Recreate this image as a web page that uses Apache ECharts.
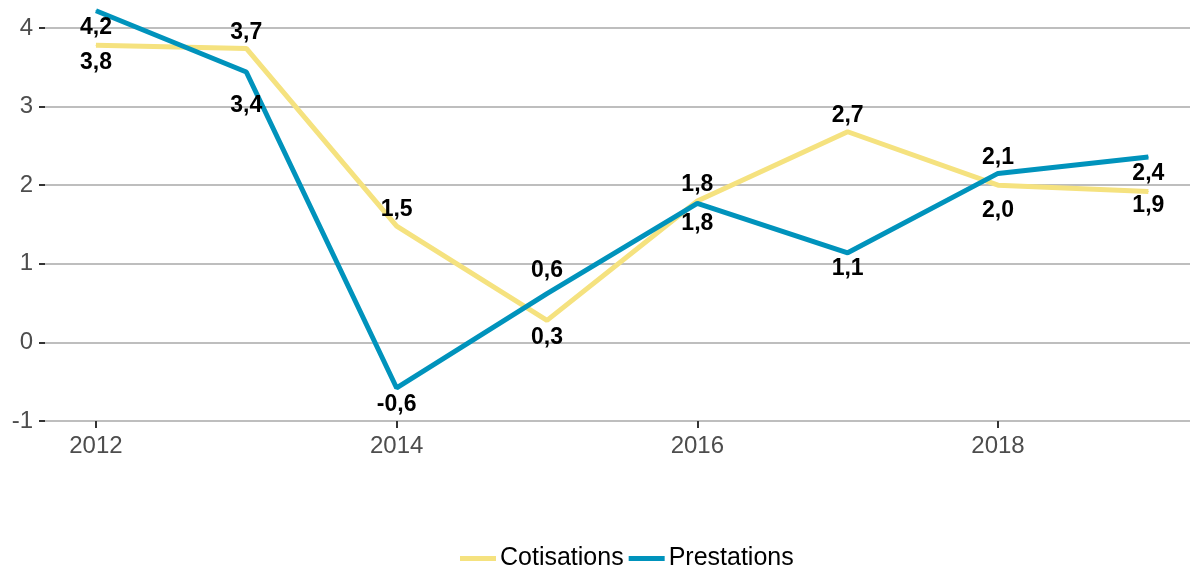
<!DOCTYPE html>
<html>
<head>
<meta charset="utf-8">
<script src="https://cdn.jsdelivr.net/npm/echarts@6/dist/echarts.min.js"></script>
<style>
	html, body { margin: 0; padding: 0; background: #fff; }
	#chart { width: 1192px; height: 567px; }
</style>
</head>
<body>
<div id="chart"></div>
<script>
	// données
	const years = [2012, 2013, 2014, 2015, 2016, 2017, 2018, 2019]
	const cotisations = [3.78, 3.74, 1.48, 0.28, 1.80, 2.68, 2.00, 1.92]
	const prestations = [4.22, 3.44, -0.58, 0.62, 1.77, 1.14, 2.15, 2.36]
	const xTicks = [2012, 2014, 2016, 2018]

	// placement des étiquettes (au-dessus / en dessous + décalage vertical)
	const cotisPos = ['bottom', 'top', 'top', 'bottom', 'top', 'top', 'bottom', 'bottom']
	const prestPos = ['bottom', 'bottom', 'bottom', 'top', 'bottom', 'bottom', 'top', 'bottom']
	const cotisShift = [1, 0, 0, 1, 0, 0, 9, -2]
	const prestShift = [1, 18, 1, -7, 4, 0, 0, 1]

	const fmt = v => v.toFixed(1).replace('.', ',')

	function buildData(vals, pos) {
		return vals.map((v, i) => ({
			value: [years[i], v],
			label: { position: pos[i] }
		}))
	}

	const labelStyle = {
		show: true,
		distance: 4,
		fontFamily: 'Liberation Sans, Arial, sans-serif',
		fontWeight: 'bold',
		fontSize: 23,
		color: '#000',
		formatter: p => fmt(p.value[1])
	}

	const chart = echarts.init(document.getElementById('chart'))
	chart.setOption({
		animation: false,
		textStyle: { fontFamily: 'Liberation Sans, Arial, sans-serif' },
		grid: {
			left: 45,
			right: 2,
			top: 28,
			bottom: 146
		},
		legend: {
			top: 541,
			left: 455,
			itemGap: 5,
			itemWidth: 36,
			itemHeight: 5,
			icon: 'rect',
			textStyle: { fontSize: 25, color: '#000', padding: [0, 0, 0, -1] },
			data: ['Cotisations', 'Prestations']
		},
		xAxis: {
			type: 'value',
			min: 2011.661,
			max: 2019.277,
			axisLine: { show: false, onZero: false },
			splitLine: { show: false },
			axisTick: {
				show: true,
				length: 7,
				customValues: xTicks,
				lineStyle: { color: '#333', width: 2 }
			},
			axisLabel: {
				customValues: xTicks,
				formatter: v => String(v),
				color: '#4d4d4d',
				fontSize: 24,
				margin: 13
			}
		},
		yAxis: {
			type: 'value',
			min: -1,
			max: 4,
			interval: 1,
			axisLine: { show: false },
			axisTick: {
				show: true,
				length: 6,
				lineStyle: { color: '#333', width: 2 }
			},
			splitLine: { lineStyle: { color: '#bebebe', width: 2 } },
			axisLabel: {
				color: '#4d4d4d',
				fontSize: 24,
				margin: 12
			}
		},
		series: [{
			name: 'Cotisations',
			type: 'line',
			clip: false,
			symbol: 'circle',
			symbolSize: 1,
			color: '#f5e27f',
			lineStyle: { width: 5, color: '#f5e27f' },
			label: labelStyle,
			labelLayout: p => ({ dy: cotisShift[p.dataIndex], hideOverlap: false }),
			data: buildData(cotisations, cotisPos),
			z: 2
		}, {
			name: 'Prestations',
			type: 'line',
			clip: false,
			symbol: 'circle',
			symbolSize: 1,
			color: '#0093bc',
			lineStyle: { width: 5, color: '#0093bc' },
			label: labelStyle,
			labelLayout: p => ({ dy: prestShift[p.dataIndex], hideOverlap: false }),
			data: buildData(prestations, prestPos),
			z: 3
		}]
	})
</script>
</body>
</html>
